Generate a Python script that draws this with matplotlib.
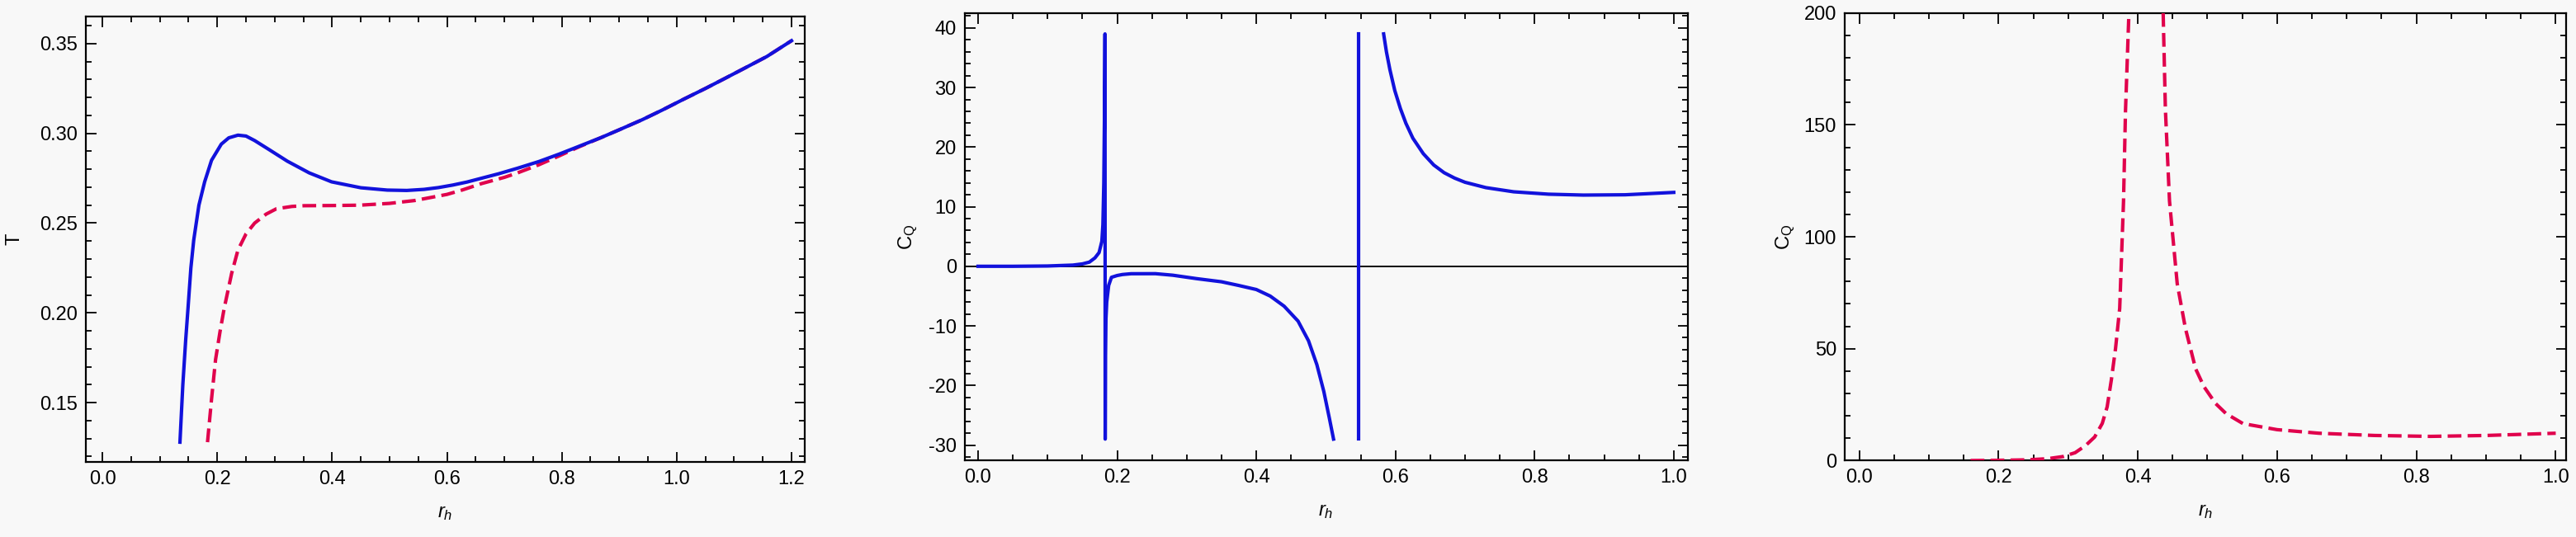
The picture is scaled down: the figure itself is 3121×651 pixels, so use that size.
#!/usr/bin/env python3
import matplotlib
matplotlib.use("Agg")
import matplotlib.pyplot as plt
from matplotlib.ticker import MultipleLocator, FormatStrFormatter

plt.rcParams['font.family'] = ['Liberation Sans', 'DejaVu Sans']
plt.rcParams['mathtext.fontset'] = 'custom'
plt.rcParams['mathtext.rm'] = 'Liberation Sans'
plt.rcParams['mathtext.it'] = 'Liberation Sans:italic'
plt.rcParams['axes.unicode_minus'] = False

# ---- panel 1: temperature T(r_h) ----
t_blue_r = [0.135, 0.14, 0.145, 0.149, 0.154, 0.159, 0.168, 0.178, 0.19, 0.207,
            0.22, 0.236, 0.25, 0.265, 0.29, 0.322, 0.36, 0.399, 0.45, 0.496,
            0.53, 0.56, 0.585, 0.61, 0.635, 0.66, 0.69, 0.723, 0.76, 0.795, 0.83, 0.868,
            0.9, 0.94, 0.975, 1.012, 1.05, 1.084, 1.12, 1.157, 1.2]
t_blue = [0.128, 0.16, 0.185, 0.2025, 0.225, 0.2406, 0.260, 0.273, 0.285, 0.294,
          0.2975, 0.299, 0.2985, 0.296, 0.291, 0.2845, 0.278, 0.273, 0.2697, 0.2684,
          0.2682, 0.2688, 0.2698, 0.2712, 0.2729, 0.275, 0.2775, 0.2806, 0.2843, 0.2884,
          0.2928, 0.2976, 0.302, 0.3076, 0.313, 0.319, 0.325, 0.3306, 0.3366, 0.3428, 0.3516]

t_red_r = [0.183, 0.19, 0.197, 0.205, 0.212, 0.225, 0.236, 0.25, 0.265, 0.285,
           0.303, 0.33, 0.351, 0.4, 0.448, 0.5, 0.544, 0.6, 0.627, 0.66, 0.7,
           0.723, 0.76, 0.795, 0.83, 0.868, 0.9, 0.94, 0.975, 1.012, 1.05,
           1.084, 1.12, 1.157, 1.2]
t_red = [0.128, 0.152, 0.174, 0.190, 0.2025, 0.222, 0.235, 0.244, 0.250, 0.255,
         0.258, 0.2593, 0.2597, 0.2598, 0.2600, 0.261, 0.2626, 0.266, 0.2685, 0.272, 0.2755,
         0.278, 0.2825, 0.2874, 0.2925, 0.2976, 0.302, 0.3076, 0.313, 0.319, 0.325,
         0.3306, 0.3366, 0.3428, 0.3516]

# ---- panel 2: heat capacity C_Q, blue branch (clipped at -29 / 39) ----
cq_a_r = [0.0, 0.05, 0.1, 0.1364, 0.15, 0.16, 0.168, 0.174, 0.178, 0.1795,
          0.1808, 0.1818, 0.1825, 0.1828, 0.1832, 0.1838, 0.185, 0.1878, 0.1918,
          0.2, 0.2076, 0.22, 0.255, 0.28, 0.314, 0.35, 0.374, 0.4, 0.42, 0.44,
          0.46, 0.475, 0.487, 0.497, 0.505, 0.511]
cq_a = [0.0, 0.0, 0.05, 0.2, 0.4, 0.7, 1.4, 2.3, 4.2, 7.0,
        14.0, 26.0, 39.0, -29.0, -15.0, -9.0, -6.0, -3.2, -1.85,
        -1.55, -1.38, -1.25, -1.24, -1.5, -2.07, -2.6, -3.2, -3.9, -5.0, -6.7,
        -9.2, -12.5, -16.5, -21.0, -25.5, -29.0]
cq_b_r = [0.547, 0.547]
cq_b = [-29.0, 39.0]
cq_c_r = [0.583, 0.587, 0.592, 0.599, 0.607, 0.615, 0.625, 0.64, 0.655, 0.67,
          0.685, 0.7, 0.73, 0.77, 0.82, 0.87, 0.93, 1.0]
cq_c = [39.0, 36.0, 33.0, 29.5, 26.5, 24.0, 21.5, 18.9, 17.0, 15.7,
        14.8, 14.1, 13.2, 12.5, 12.1, 11.95, 12.0, 12.4]

# ---- panel 3: C_Q, red dashed ----
cq_l_r = [0.16, 0.2, 0.24, 0.27, 0.293, 0.31, 0.325, 0.338, 0.349, 0.356,
          0.362, 0.368, 0.374, 0.3795, 0.3823, 0.387, 0.3875]
cq_l = [0.0, 0.1, 0.3, 0.8, 1.8, 3.5, 6.7, 10.5, 16.6, 24.0,
        36.0, 50.0, 68.0, 116.0, 156.0, 198.0, 200.0]
cq_r_r = [0.4364, 0.4396, 0.4455, 0.4566, 0.4684, 0.483, 0.495, 0.5116, 0.5266,
          0.551, 0.6, 0.66, 0.74, 0.82, 0.9, 1.0]
cq_r = [200.0, 157.0, 116.0, 79.0, 59.0, 41.0, 33.0, 25.5, 21.0,
        16.5, 13.8, 12.2, 11.2, 10.8, 11.2, 12.2]

bg = '#f8f8f8'
blue = '#1212dc'
red = '#e0004c'

fig = plt.figure(figsize=(31.21, 6.51), dpi=100, facecolor=bg)
ax1 = fig.add_axes([0.0333, 0.1398, 0.2791, 0.8302])
ax2 = fig.add_axes([0.3744, 0.1424, 0.2807, 0.8333])
ax3 = fig.add_axes([0.7160, 0.1424, 0.2803, 0.8333])

ax1.plot(t_blue_r, t_blue, color=blue, lw=3, zorder=3)
ax1.plot(t_red_r, t_red, color=red, lw=3, dashes=(4, 1.8), zorder=2)
ax1.set_xlim(-0.029, 1.223)
ax1.set_ylim(0.117, 0.3653)
ax1.xaxis.set_major_locator(MultipleLocator(0.2))
ax1.xaxis.set_minor_locator(MultipleLocator(0.05))
ax1.yaxis.set_major_locator(MultipleLocator(0.05))
ax1.yaxis.set_minor_locator(MultipleLocator(0.01))
ax1.set_ylabel('T', labelpad=14)

ax2.axhline(0, color='black', lw=1.4, zorder=1)
for xs, ys in [(cq_a_r, cq_a), (cq_b_r, cq_b), (cq_c_r, cq_c)]:
    ax2.plot(xs, ys, color=blue, lw=3, zorder=3)
ax2.set_xlim(-0.0195, 1.0198)
ax2.set_ylim(-32.6, 42.5)
ax2.xaxis.set_major_locator(MultipleLocator(0.2))
ax2.xaxis.set_minor_locator(MultipleLocator(0.05))
ax2.yaxis.set_major_locator(MultipleLocator(10))
ax2.yaxis.set_minor_locator(MultipleLocator(2))
ax2.set_ylabel(r'$\mathrm{C_Q}$', labelpad=8)

ax3.axhline(0, color='black', lw=1.4, zorder=1)
ax3.plot(cq_l_r, cq_l, color=red, lw=3, dashes=(4, 1.8), zorder=3)
ax3.plot(cq_r_r, cq_r, color=red, lw=3, dashes=(4, 1.8), zorder=3)
ax3.set_xlim(-0.0212, 1.0154)
ax3.set_ylim(0, 200)
ax3.xaxis.set_major_locator(MultipleLocator(0.2))
ax3.xaxis.set_minor_locator(MultipleLocator(0.05))
ax3.yaxis.set_major_locator(MultipleLocator(50))
ax3.yaxis.set_minor_locator(MultipleLocator(10))
ax3.set_ylabel(r'$\mathrm{C_Q}$', labelpad=6)

for ax in (ax1, ax2, ax3):
    ax.set_facecolor(bg)
    ax.set_xlabel(r'$r_h$', fontsize=17, labelpad=14)
    ax.yaxis.label.set_size(17)
    for s in ax.spines.values():
        s.set_linewidth(1.6)
    ax.tick_params(which='both', direction='in', top=True, right=True,
                   labelsize=17, width=1.3)
    ax.tick_params(which='major', length=9, pad=7)
    ax.tick_params(which='minor', length=5)
    ax.xaxis.set_major_formatter(FormatStrFormatter('%.1f'))

ax1.yaxis.set_major_formatter(FormatStrFormatter('%.2f'))
ax2.yaxis.set_major_formatter(FormatStrFormatter('%d'))
ax3.yaxis.set_major_formatter(FormatStrFormatter('%d'))

fig.savefig('out.png', dpi=100, facecolor=bg)
